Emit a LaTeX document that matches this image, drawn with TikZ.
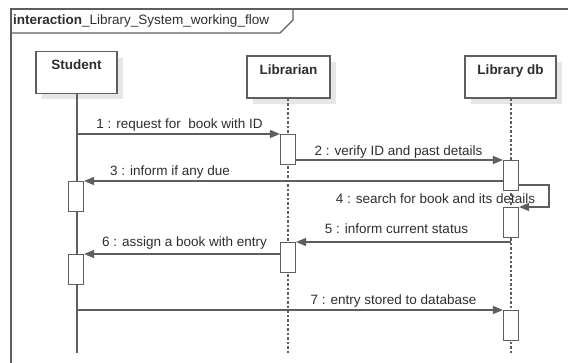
\documentclass[tikz,border=0pt]{standalone}
\usepackage{fontspec}
\setmainfont{Liberation Sans}
\usetikzlibrary{arrows.meta}
\definecolor{ln}{HTML}{5E5E5E}
\definecolor{tx}{HTML}{2E2E2E}
\definecolor{shd}{HTML}{E6E6E6}
\begin{document}
\begin{tikzpicture}[x=1pt,y=-1pt,
  every node/.style={text=tx,font=\fontsize{13.5}{15}\selectfont},
  lifebox/.style={draw=ln,line width=1.2pt,fill=white,minimum height=42pt,inner sep=0pt},
  shadowbox/.style={fill=shd,minimum height=42pt,inner sep=0pt},
  act/.style={draw=ln,line width=1.1pt,fill=white,minimum width=15pt,minimum height=30pt,inner sep=0pt,anchor=north},
  msg/.style={draw=ln,line width=1.2pt,-{Triangle[length=10pt,width=8pt]}},
  lbl/.style={inner sep=0pt},
  dashline/.style={draw=ln,line width=1.2pt,dash pattern=on 2.5pt off 2pt},
  solidline/.style={draw=ln,line width=1.2pt}]
\useasboundingbox (0,0) rectangle (568,363);
% frame
\draw[ln,line width=1.3pt] (11,363) -- (11,9) -- (568,9);
\draw[ln,line width=1.2pt] (11,33) -- (280,33) -- (293,20) -- (293,9);
\node[anchor=west,inner sep=0pt] (title) at (13,21.5) {\textbf{interaction}\_Library\_System\_working\_flow};
% shadows
\fill[shd] (42,58) rectangle (123,99);
\fill[shd] (253,62) rectangle (336,104);
\fill[shd] (471,62) rectangle (562,104);
% lifeline heads
\node[lifebox,minimum width=81pt] (student) at (76.5,72.5) {};
\node[anchor=north,inner sep=0pt,font=\fontsize{13.5}{15}\selectfont\bfseries] (studentlbl) at (76.5,60) {Student};
\node[lifebox,minimum width=83pt] (librarian) at (288.5,77) {};
\node[anchor=north,inner sep=0pt,font=\fontsize{13.5}{15}\selectfont\bfseries] (librarianlbl) at (288.5,64.5) {Librarian};
\node[lifebox,minimum width=91pt] (db) at (510.5,77) {};
\node[anchor=north,inner sep=0pt,font=\fontsize{13.5}{15}\selectfont\bfseries] (dblbl) at (510.5,64.5) {Library db};
% lifelines
\coordinate (send) at (77,353);
\coordinate (lend) at (288,353);
\coordinate (dend) at (511,353);
\draw[solidline] (student.south -| send) -- (send);
\draw[dashline] (librarian.south -| lend) -- (lend);
\draw[dashline] (db.south -| dend) -- (dend);
% activations
\node[act] (l1) at (288,134) {};
\node[act] (d1) at (511,160) {};
\node[act] (s1) at (76,181) {};
\node[act] (d2) at (511,207) {};
\node[act] (l2) at (288,242) {};
\node[act] (s2) at (76,254) {};
\node[act] (d3) at (511,310) {};
% messages
\draw[msg] (l1.north west -| send) -- (l1.north west);
\node[lbl] (t1) at (179.5,125) {1 : request for\ \ book with ID};
\draw[msg] (d1.north west -| l1.east) -- (d1.north west);
\node[lbl] (t2) at (398.5,152) {2 : verify ID and past details};
\draw[msg] (s1.north east -| d1.west) -- (s1.north east);
\node[lbl] (t3) at (170,172) {3 : inform if any due};
\coordinate (self) at (549,185);
\draw[msg] (d1.east |- self) -- (self) -- (self |- d2.north) -- (d2.north east);
\node[lbl] (t4) at (435.5,198.5) {4 : search for book and its details};
\draw[msg] (l2.north east -| dend) -- (l2.north east);
\node[lbl] (t5) at (396.5,228.5) {5 : inform current status};
\draw[msg] (s2.north east -| l2.west) -- (s2.north east);
\node[lbl] (t6) at (184.5,243.5) {6 : assign a book with entry};
\draw[msg] (d3.north west -| send) -- (d3.north west);
\node[lbl] (t7) at (393.5,301.5) {7 : entry stored to database};
\end{tikzpicture}
\end{document}
